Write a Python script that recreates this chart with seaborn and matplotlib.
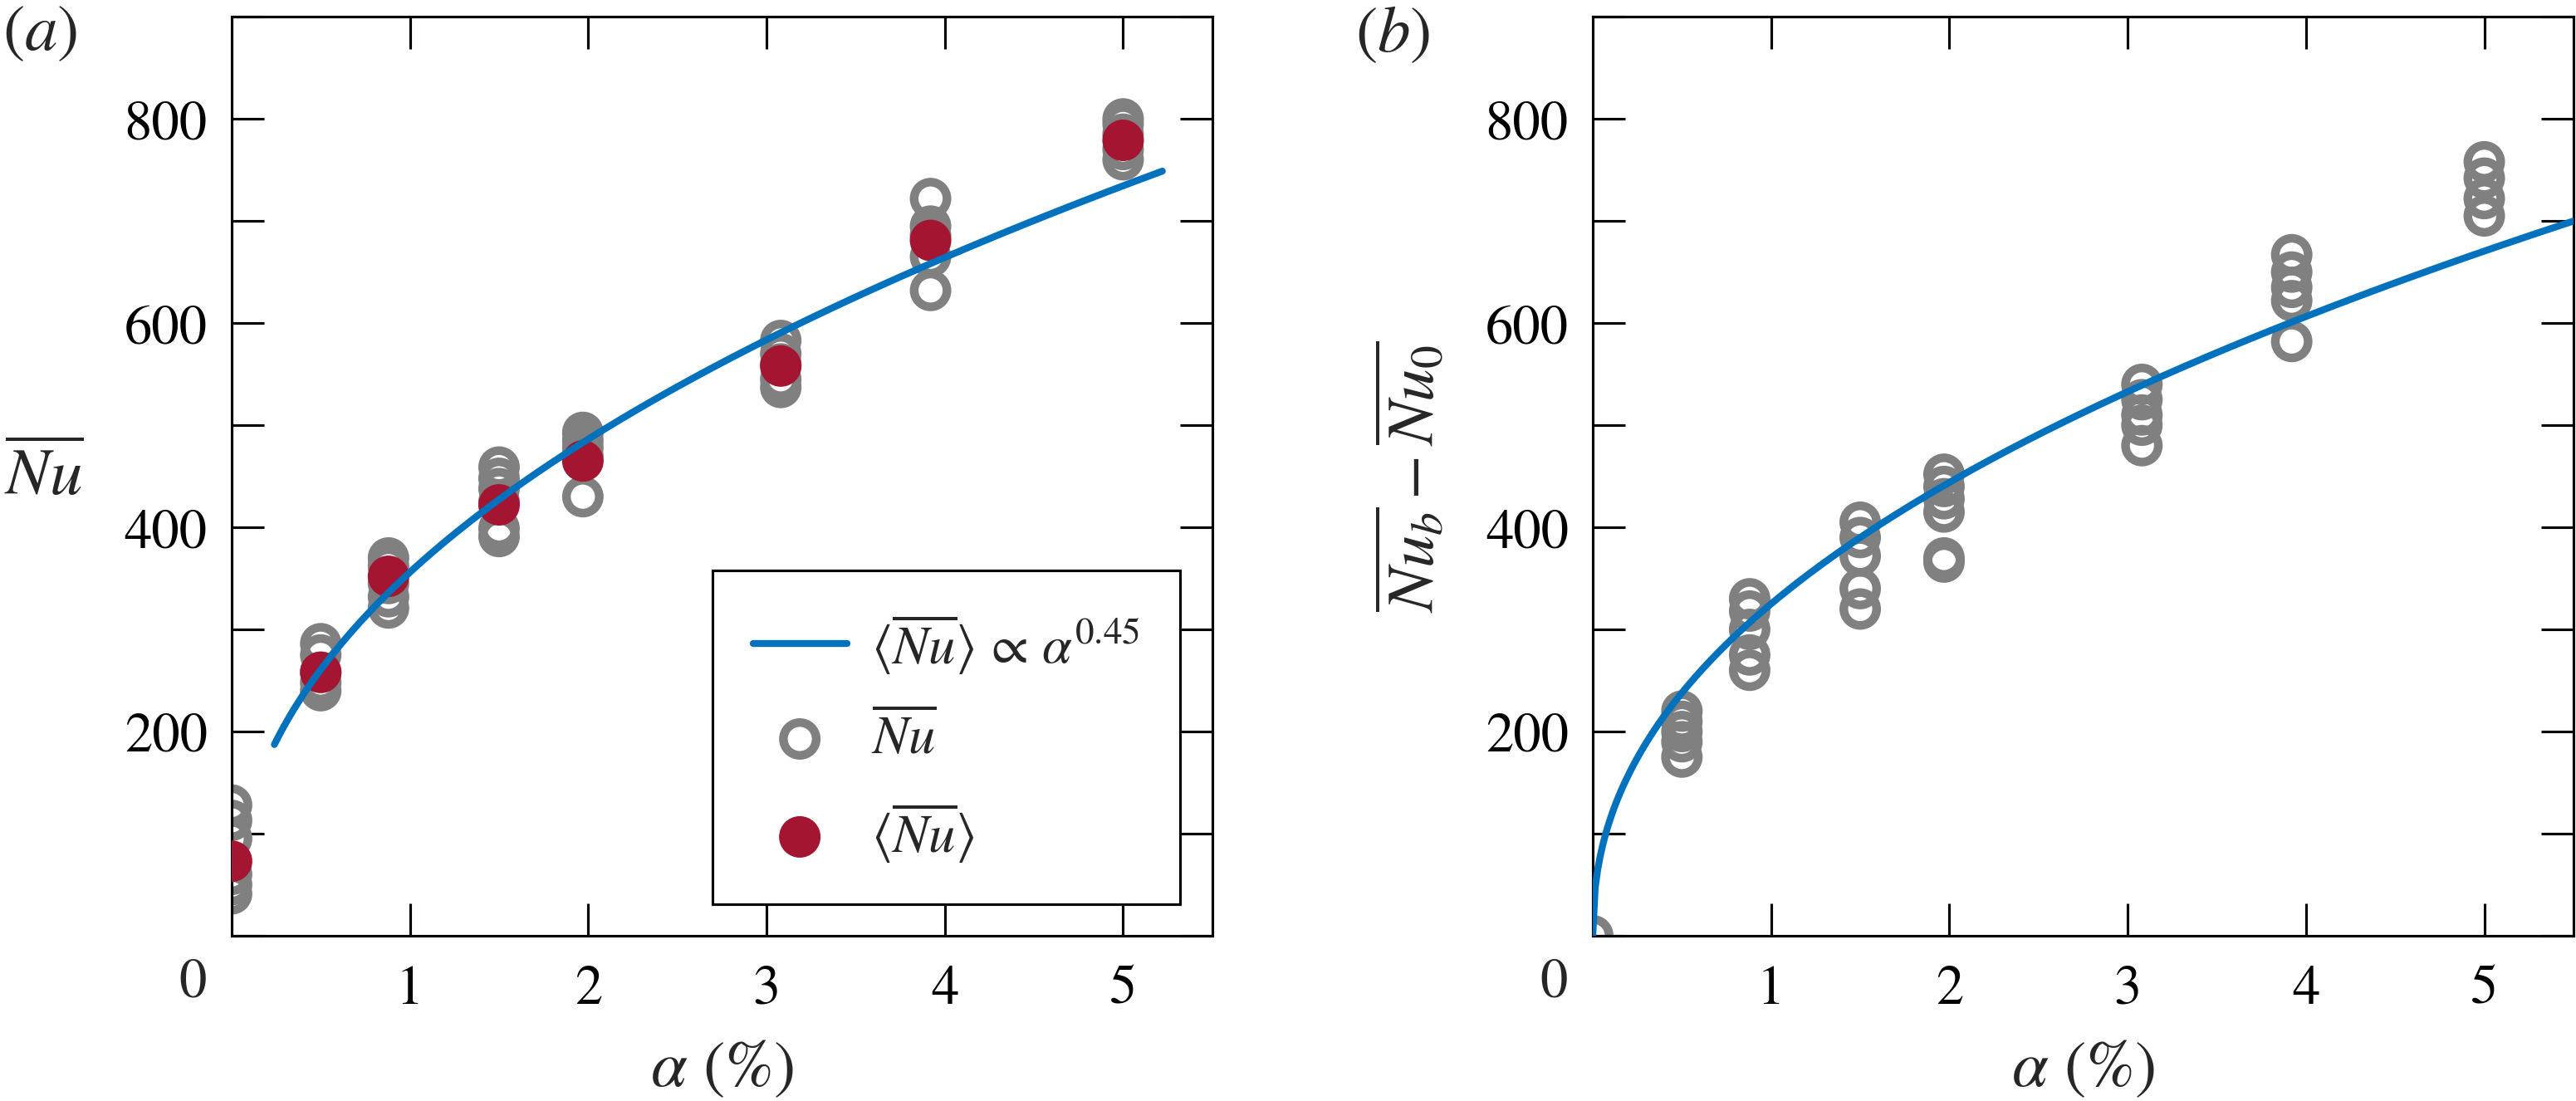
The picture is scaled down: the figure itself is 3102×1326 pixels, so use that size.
import numpy as np
import pandas as pd
import matplotlib
matplotlib.use('Agg')
import matplotlib.pyplot as plt
import seaborn as sns
from matplotlib.ticker import MultipleLocator, FuncFormatter

# fracción de burbujas alpha (%)
alpha = [0, 0.5, 0.88, 1.5, 1.97, 3.08, 3.92, 5.0]

# (a) Nu de cada caso, agrupado por alpha
nu_runs = [
    [128, 113, 95, 60, 50, 41],
    [286, 275, 258, 248, 240],
    [370, 362, 345, 332, 321],
    [459, 448, 438, 425, 399, 391],
    [493, 485, 478, 470, 430],
    [583, 570, 560, 545, 537],
    [722, 695, 686, 665, 632],
    [800, 795, 785, 770, 760],
]
# (a) promedio <Nu>
nu_mean = [73, 258, 352, 422, 465, 558, 681, 779]

# (b) Nu_b - Nu_0
dnu_runs = [
    [0],
    [220, 210, 200, 190, 175],
    [330, 318, 300, 275, 260],
    [405, 390, 372, 340, 320],
    [452, 440, 428, 415, 370, 366],
    [540, 525, 510, 500, 480],
    [667, 650, 635, 622, 582],
    [758, 742, 722, 705],
]

# ajuste ~ alpha^0.45
exponente = 0.45
pref_a, rango_a = 356, (0.24, 5.22)
pref_b, rango_b = 325, (0.0, 5.5)

GRIS = '#808080'
ROJO = '#A31530'
AZUL = '#0072BD'


def largo(xs, ys):
    return pd.DataFrame({'alpha': np.repeat(xs, [len(v) for v in ys]),
                         'nu': np.concatenate(ys)})


df_a = largo(alpha, nu_runs)
df_b = largo(alpha, dnu_runs)

sns.set_theme(style='ticks')
plt.rcParams.update({
    'font.family': 'STIXGeneral',
    'mathtext.fontset': 'stix',
    'font.size': 16,
    'axes.linewidth': 0.75,
    'xtick.direction': 'in', 'ytick.direction': 'in',
    'xtick.top': True, 'ytick.right': True,
    'xtick.major.size': 9.4, 'ytick.major.size': 9.4,
    'xtick.major.width': 0.75, 'ytick.major.width': 0.75,
    'xtick.major.pad': 8.4, 'ytick.major.pad': 7,
    'xtick.labelsize': 16, 'ytick.labelsize': 16,
    'xtick.color': 'black', 'ytick.color': 'black',
    'axes.edgecolor': 'black',
})

fig = plt.figure(figsize=(10.34, 4.4233), dpi=300)
ax1 = fig.add_axes([0.0899, 0.150, 0.3807, 0.834])
ax2 = fig.add_axes([0.6183, 0.150, 0.3807, 0.834])

xf_a = np.linspace(*rango_a, 200)
xf_b = np.linspace(*rango_b, 400)

for ax, df, pref, xf in [(ax1, df_a, pref_a, xf_a), (ax2, df_b, pref_b, xf_b)]:
    sns.scatterplot(data=df, x='alpha', y='nu', ax=ax, marker='o', s=90,
                    color=GRIS, facecolor='none', edgecolor=GRIS, linewidth=2.5,
                    label=r'$\overline{Nu}$', zorder=2)
    if ax is ax1:
        sns.scatterplot(x=alpha, y=nu_mean, ax=ax, marker='o', s=144,
                        color=ROJO, edgecolor='none', linewidth=0,
                        label=r'$\langle\overline{Nu}\rangle$', zorder=3)
    sns.lineplot(x=xf, y=pref * xf ** exponente, ax=ax, color=AZUL, linewidth=2.0,
                 label=r'$\langle\overline{Nu}\rangle\,\propto\,\alpha^{0.45}$', zorder=4)

    ax.set_xlim(0, 5.5)
    ax.set_ylim(0, 900)
    ax.set_xticks([1, 2, 3, 4, 5])
    ax.yaxis.set_major_locator(MultipleLocator(100))
    ax.yaxis.set_major_formatter(FuncFormatter(
        lambda v, p: f'{v:.0f}' if v in (200, 400, 600, 800) else ''))
    ax.set_xlabel(r'$\alpha$ (%)', fontsize=19)
    ax.xaxis.set_label_coords(0.5, -0.112)
    ax.xaxis.label.set_va('top')
    ax.text(-0.04, -0.052, '0', transform=ax.transAxes, ha='center', va='center', fontsize=16)
    for s in ax.spines.values():
        s.set_visible(True)
        s.set_linewidth(0.75)

# (a) leyenda: línea, círculos, promedio
h, l = ax1.get_legend_handles_labels()
orden = [2, 0, 1]
leg = ax1.legend([h[i] for i in orden], [l[i] for i in orden], loc='lower right',
                 bbox_to_anchor=(0.967, 0.034), borderaxespad=0, fontsize=15.5,
                 frameon=True, fancybox=False, framealpha=1, edgecolor='black',
                 handlelength=1.75, handletextpad=0.45, labelspacing=0.65,
                 borderpad=0.75)
leg.get_frame().set_linewidth(0.75)
ax2.get_legend().remove()

ax1.set_ylabel(r'$\overline{Nu}$', fontsize=19, rotation=0, ha='center', va='center')
ax1.yaxis.set_label_coords(-0.191, 0.5)
ax2.set_ylabel(r'$\overline{Nu_b} - \overline{Nu_0}$', fontsize=19, rotation=90,
               ha='center', va='center')
ax2.yaxis.set_label_coords(-0.184, 0.5)

fig.text(0.001, 0.995, r'$(a)$', ha='left', va='top', fontsize=19)
fig.text(0.526, 0.995, r'$(b)$', ha='left', va='top', fontsize=19)

fig.savefig('out.png', dpi=300)
